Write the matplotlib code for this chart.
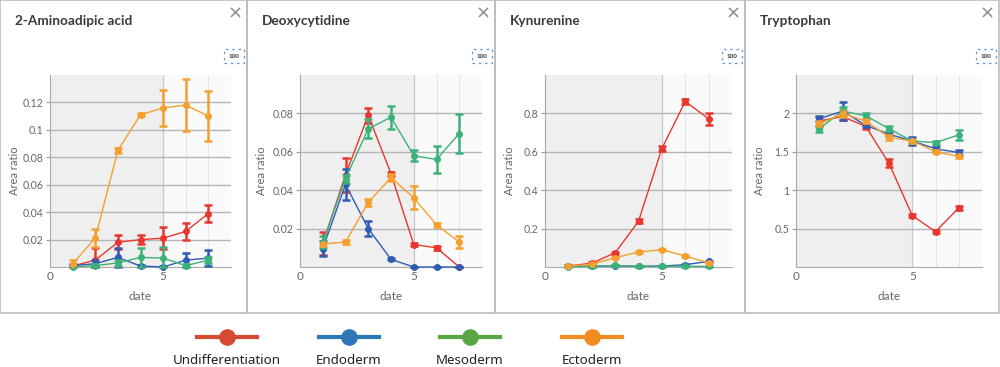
import matplotlib.pyplot as plt
from matplotlib.lines import Line2D
from matplotlib.patches import Rectangle
import numpy as np

plt.rcParams['font.family'] = ['Lato', 'DejaVu Sans']

days = [1, 2, 3, 4, 5, 6, 7]
groups = ['Undifferentiation', 'Endoderm', 'Mesoderm', 'Ectoderm']
line_colors = ['#e8372f', '#2f5cb3', '#3cb27a', '#f5a02e']
legend_colors = ['#d44a32', '#2e77b7', '#5aa645', '#f08c22']

titles = ['2-Aminoadipic acid', 'Deoxycytidine', 'Kynurenine', 'Tryptophan']

# 2-Aminoadipic acid: means and errors per group
amino_mean = [
    [0.0007, 0.005, 0.018, 0.020, 0.021, 0.026, 0.039],
    [0.001, 0.0024, 0.007, 0.0007, 0.0, 0.005, 0.0065],
    [0.0, 0.001, 0.003, 0.007, 0.0065, 0.001, 0.005],
    [0.0024, 0.021, 0.085, 0.111, 0.116, 0.118, 0.110],
]
amino_err = [
    [0.0005, 0.009, 0.005, 0.003, 0.008, 0.006, 0.006],
    [0.001, 0.003, 0.007, 0.001, 0.0005, 0.005, 0.006],
    [0.0005, 0.001, 0.002, 0.007, 0.008, 0.001, 0.002],
    [0.003, 0.0065, 0.002, 0.001, 0.013, 0.019, 0.018],
]

deoxy_mean = [
    [0.012, 0.048, 0.079, 0.0486, 0.0117, 0.010, 0.0],
    [0.0095, 0.043, 0.020, 0.004, 0.0, 0.0, 0.0],
    [0.013, 0.046, 0.072, 0.078, 0.058, 0.056, 0.0695],
    [0.012, 0.013, 0.0336, 0.0466, 0.036, 0.022, 0.013],
]
deoxy_err = [
    [0.006, 0.009, 0.004, 0.001, 0.001, 0.001, 0.0],
    [0.004, 0.008, 0.004, 0.0005, 0.0, 0.0, 0.0],
    [0.003, 0.002, 0.005, 0.006, 0.003, 0.007, 0.010],
    [0.001, 0.001, 0.002, 0.002, 0.006, 0.001, 0.003],
]

kyn_mean = [
    [0.005, 0.02, 0.074, 0.238, 0.617, 0.862, 0.772],
    [0.003, 0.004, 0.006, 0.004, 0.005, 0.012, 0.029],
    [0.002, 0.004, 0.008, 0.003, 0.004, 0.004, 0.003],
    [0.005, 0.014, 0.048, 0.078, 0.09, 0.057, 0.022],
]
kyn_err = [
    [0.003, 0.005, 0.006, 0.01, 0.012, 0.012, 0.03],
    [0.002, 0.002, 0.002, 0.002, 0.002, 0.003, 0.004],
    [0.002, 0.002, 0.002, 0.002, 0.002, 0.002, 0.002],
    [0.002, 0.003, 0.003, 0.003, 0.003, 0.003, 0.003],
]

trp_mean = [
    [1.90, 1.96, 1.83, 1.35, 0.67, 0.46, 0.77],
    [1.93, 2.03, 1.845, 1.73, 1.64, 1.54, 1.49],
    [1.80, 2.03, 1.97, 1.80, 1.64, 1.62, 1.72],
    [1.86, 2.00, 1.90, 1.69, 1.64, 1.50, 1.44],
]
trp_err = [
    [0.05, 0.04, 0.03, 0.05, 0.02, 0.02, 0.03],
    [0.03, 0.12, 0.02, 0.03, 0.05, 0.03, 0.03],
    [0.04, 0.05, 0.04, 0.03, 0.02, 0.02, 0.06],
    [0.04, 0.05, 0.03, 0.03, 0.02, 0.02, 0.02],
]

means = [amino_mean, deoxy_mean, kyn_mean, trp_mean]
errs = [amino_err, deoxy_err, kyn_err, trp_err]
ymaxs = [0.14, 0.1, 1.0, 2.5]
yticks = [[0.02, 0.04, 0.06, 0.08, 0.1, 0.12],
          [0.02, 0.04, 0.06, 0.08],
          [0.2, 0.4, 0.6, 0.8],
          [0.5, 1, 1.5, 2]]
yticklabels = [['0.02', '0.04', '0.06', '0.08', '0.1', '0.12'],
               ['0.02', '0.04', '0.06', '0.08'],
               ['0.2', '0.4', '0.6', '0.8'],
               ['0.5', '1', '1.5', '2']]

W, H = 1000, 367
fig = plt.figure(figsize=(10, 3.67), dpi=100, facecolor='white')

# panel frames (pixels)
panel_x = [0, 247, 495, 745, 999]
axes_px = [(50, 231), (300, 482), (545, 732), (796, 982)]
ax_top, ax_bot = 75, 267

for i in range(4):
    x0, x1 = panel_x[i], panel_x[i + 1]
    fig.patches.append(Rectangle((x0 / W, (H - 313) / H), (x1 - x0) / W, 313 / H,
                                 transform=fig.transFigure, facecolor='none',
                                 edgecolor='#bdbdbd', lw=1.2, zorder=0))
    fig.text((x0 + 15) / W, 1 - 21 / H, titles[i], fontsize=9.8, fontweight='bold',
             color='#3a3a3a', va='center', ha='left')
    fig.text((x1 - 12) / W, 1 - 14 / H, '\u00d7', fontsize=13, color='#888888',
             va='center', ha='center', family='DejaVu Sans')
    fig.text((x1 - 13) / W, 1 - 56 / H, '100', fontsize=4.5, color='#333333', va='center',
             ha='center', fontweight='bold',
             bbox=dict(boxstyle='square,pad=0.7', fc='white', ec='#5b9bd5', lw=0.9,
                       ls=(0, (2, 3))))

    l, r = axes_px[i]
    ax = fig.add_axes([l / W, (H - ax_bot) / H, (r - l) / W, (ax_bot - ax_top) / H])
    ax.set_facecolor('#fafafa')
    ax.axvspan(0, 5, color='#efefef', zorder=0)
    ax.set_xlim(0, 8)
    ax.set_ylim(0, ymaxs[i])
    for v in [6, 7]:
        ax.axvline(v, color='#e6e6e6', lw=0.8, zorder=0.5)
    ax.axvline(5, color='#c8c8c8', lw=0.9, zorder=0.5)
    for t in yticks[i]:
        ax.axhline(t, color='#b5b5b5', lw=1, zorder=0.6)
    ax.set_xticks([0, 5])
    ax.set_xticklabels(['0', '5'])
    ax.set_yticks(yticks[i])
    ax.set_yticklabels(yticklabels[i])
    ax.tick_params(axis='x', length=0, labelsize=8.5, labelcolor='#666666', pad=3)
    ax.tick_params(axis='y', length=3, color='#999999', labelsize=7.6,
                   labelcolor='#666666', pad=2)
    for s in ['top', 'right']:
        ax.spines[s].set_visible(False)
    for s in ['left', 'bottom']:
        ax.spines[s].set_color('#aaaaaa')
    ax.set_xlabel('date', fontsize=8.5, color='#666666', labelpad=6)
    ax.set_ylabel('Area ratio', fontsize=8, color='#666666')
    ax.yaxis.set_label_coords(-((l - x0 - 20) / (r - l)), 0.5)

    for g in range(4):
        m = np.array(means[i][g])
        e = np.array(errs[i][g])
        lower = np.minimum(e, m)  # bars stop at the axis floor
        ax.errorbar(days, m, yerr=[lower, e], color=line_colors[g],
                    lw=1, marker='o', ms=4, elinewidth=1.8, capsize=3.2,
                    capthick=1.8, zorder=3 + g * 0.1, clip_on=False)

# legend
for g in range(4):
    cx = 227 + g * 121.5
    fig.lines.append(Line2D([(cx - 30) / W, (cx + 30) / W], [1 - 337 / H, 1 - 337 / H],
                            transform=fig.transFigure, color=legend_colors[g], lw=3))
    fig.lines.append(Line2D([cx / W], [1 - 337 / H], transform=fig.transFigure,
                            color=legend_colors[g], marker='o', ms=11, lw=0))
    fig.text(cx / W, 1 - 360 / H, groups[g], fontsize=9.6, color='#222222',
             ha='center', va='center', family=['Noto Sans', 'DejaVu Sans'])

fig.savefig('out.png', dpi=100)
